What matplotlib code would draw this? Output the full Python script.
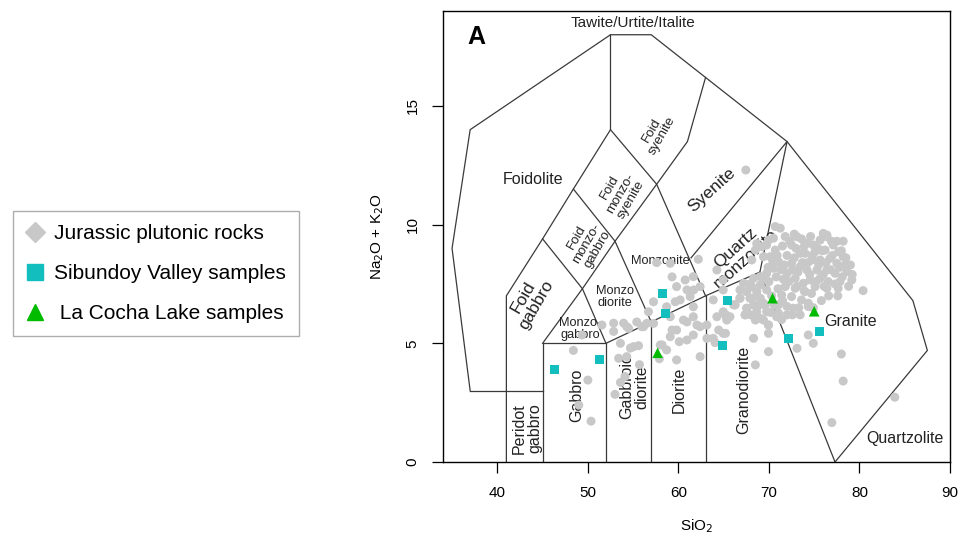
import matplotlib
matplotlib.use("Agg")
import matplotlib.pyplot as plt
from matplotlib.lines import Line2D

plt.rcParams['font.family'] = ['Liberation Sans', 'DejaVu Sans']

# ---- data (SiO2, Na2O+K2O) ----
jur_sio2 = [48.4, 50.0, 50.35, 49.0, 49.35, 51.55,
            52.85, 52.85, 53.0, 53.6, 53.4, 53.6, 54.1, 54.3, 54.7, 55.05, 55.6, 55.7, 53.95,
            54.5, 54.3, 55.4, 55.95, 56.15, 56.5, 56.7, 57.25, 57.25,
            57.6, 57.9, 58.0, 58.2, 58.7, 58.7, 59.1, 59.1, 59.1, 59.3, 59.3, 59.65, 59.8, 59.8,
            59.8, 60.1, 60.2, 60.55, 60.75, 60.95, 60.95, 60.95, 61.3, 61.65, 61.65, 61.65,
            61.65, 61.7, 62.05, 62.2, 62.4, 62.4, 62.4, 63.15, 63.15, 63.85, 63.85, 64.05,
            64.25, 64.25, 64.45, 64.95, 64.95, 64.95, 64.95, 65.35, 65.2, 65.2, 65.7, 66.1,
            66.25, 66.8, 66.8, 67.2, 67.4, 67.55, 67.55, 67.55, 67.45,
            71.25, 70.5, 69.75, 70.7, 70.15, 71.05, 70.5, 69.75, 69.05, 68.3, 69.05, 68.1,
            67.55, 68.65, 69.75, 67.9, 69.05, 68.3, 69.4, 67.55, 68.65, 69.75, 67.35, 68.5,
            69.4, 69.95, 71.8, 72.5, 73.45, 72.5, 73.45, 72.0, 72.9, 74.2, 74.9, 75.65, 76.4,
            76.2, 77.1, 77.7, 78.2, 78.4, 78.6, 77.5, 76.75, 75.65, 74.75, 75.3, 74.2, 76.4,
            77.3, 75.65, 74.55, 73.8, 76.55, 77.85, 79.15, 77.65, 76.4, 75.1, 74.0, 72.9, 71.8,
            71.4, 72.5, 73.6, 74.35, 80.4, 72.0, 71.05, 72.7, 70.85, 73.45, 65.35, 66.25, 66.8,
            68.5, 68.1, 70.7, 73.1, 76.0, 75.1, 74.0, 68.65, 69.2, 69.4, 69.95, 76.4,
            65.2, 68.3, 69.95, 69.95, 69.95, 68.5, 73.1, 74.35, 74.9, 78.0, 78.2, 72.0, 74.35,
            71.05, 69.05, 76.95, 83.9,
            70.0, 70.3, 70.8, 71.3, 71.6, 71.0, 71.5, 72.2, 72.0, 72.8, 73.2, 73.0, 73.7, 73.9,
            74.3, 74.5, 74.8, 75.2, 75.5, 75.9, 76.0, 76.3, 76.8, 77.0, 77.3, 77.8, 78.0, 78.1,
            76.9, 75.4, 74.6, 73.6, 72.8, 72.3, 71.5, 70.4, 69.9, 70.9, 71.7, 72.6, 73.1, 73.9,
            74.7, 76.1, 76.6, 77.6, 73.3, 72.6, 71.4, 70.6, 69.4, 68.7, 68.2, 67.9, 68.9, 68.0,
            69.6, 70.2, 75.8, 74.9, 78.5, 79.0, 79.2, 78.8, 77.5, 78.2]
jur_alk = [4.7, 3.45, 1.72, 2.4, 5.35, 5.77,
           5.85, 5.5, 2.85, 5.0, 4.37, 3.35, 3.6, 4.44, 4.8, 4.86, 4.9, 4.1, 5.85,
           5.63, 5.7, 5.9, 5.7, 5.7, 5.84, 6.33, 5.84, 6.75,
           8.4, 4.35, 4.93, 4.93, 4.72, 6.54, 6.12, 5.28, 8.37, 7.8, 5.56, 6.75, 4.3, 5.56,
           7.39, 5.07, 6.83, 5.98, 7.67, 7.25, 5.9, 5.14, 6.97, 6.54, 6.12, 5.35,
           7.81, 7.25, 5.77, 8.54, 4.44, 5.7, 7.39, 5.77, 5.21, 6.83, 5.21, 5.03,
           6.12, 8.09, 5.56, 6.33, 5.42, 7.25, 7.67, 5.98, 6.2, 5.42, 6.12, 6.62,
           6.62, 7.25, 6.9, 7.53, 6.2, 6.27, 7.18, 6.48, 12.3,
           9.85, 9.43, 9.14, 8.93, 8.65, 8.44, 8.16, 7.95, 7.81, 7.74, 7.46, 7.39,
           7.18, 7.18, 7.25, 6.9, 6.9, 6.62, 6.69, 6.48, 6.33, 6.33, 6.2, 5.98,
           5.98, 5.77, 9.5, 9.14, 8.79, 8.37, 8.23, 7.95, 7.74, 9.21, 9.14, 9.35, 9.49,
           8.93, 9.14, 8.86, 8.65, 8.3, 8.02, 8.37, 8.58, 8.51, 8.51, 8.09, 8.09, 8.09,
           7.95, 7.74, 7.67, 7.53, 7.6, 7.6, 7.67, 7.32, 7.32, 7.39, 7.18, 7.32, 7.39,
           7.04, 6.97, 6.83, 6.69, 7.22, 6.55, 6.62, 6.48, 6.12, 6.2, 6.05, 6.62, 6.9,
           8.93, 8.51, 9.92, 9.49, 9.63, 8.86, 8.79, 9.2, 9.07, 8.65, 9.35, 9.56,
           6.2, 5.21, 5.42, 5.77, 4.65, 4.09, 4.79, 5.35, 5.0, 4.55, 3.41, 6.2, 6.55,
           6.27, 6.05, 1.66, 2.73,
           7.6, 7.0, 7.8, 8.1, 7.7, 7.3, 6.8, 7.6, 8.7, 8.6, 8.0, 9.0, 8.4, 9.1,
           8.4, 7.9, 8.7, 7.6, 8.3, 8.9, 7.9, 8.4, 8.1, 8.7, 7.5, 8.2, 8.9, 7.8,
           9.3, 9.0, 9.5, 9.4, 9.6, 9.3, 9.1, 8.5, 8.2, 8.7, 8.3, 8.1, 7.4, 7.2,
           7.1, 7.4, 7.0, 7.0, 6.5, 6.2, 6.0, 6.6, 7.7, 7.0, 6.9, 7.5, 6.6, 6.2,
           6.6, 6.3, 6.8, 6.5, 8.6, 8.3, 7.9, 7.4, 9.3, 9.3]

sib_sio2 = [46.3, 51.3, 58.2, 58.6, 65.4, 64.9, 72.2, 75.6]
sib_alk = [3.9, 4.3, 7.1, 6.25, 6.8, 4.9, 5.2, 5.5]

lac_sio2 = [57.7, 70.4, 75.0]
lac_alk = [4.6, 6.9, 6.35]

# field boundaries (Middlemost plutonic TAS)
fields = [
    [(41, 0), (41, 7), (45, 9.4), (48.4, 11.5), (52.5, 14), (52.5, 18)],
    [(37, 3), (35, 9), (37, 14), (52.5, 18), (57, 18), (63, 16.2), (72, 13.5),
     (85.9, 6.8), (87.5, 4.7), (77.3, 0)],
    [(37, 3), (45, 3)],
    [(45, 0), (45, 5), (52, 5), (52, 0)],
    [(57, 0), (57, 5.9)],
    [(63, 0), (63, 7)],
    [(45, 5), (49.4, 7.3), (53, 9.3), (57.6, 11.7), (61, 13.5), (63, 16.2)],
    [(45, 9.4), (49.4, 7.3), (52, 5), (57, 5.9), (63, 7), (69, 8), (77.3, 0)],
    [(48.4, 11.5), (53, 9.3), (57, 5.9)],
    [(52.5, 14), (57.6, 11.7), (63, 7)],
    [(61.4, 8.6), (72, 13.5), (69, 8)],
]

labels = [
    ("Tawite/Urtite/Italite", 55.0, 18.5, 0, 11),
    ("Foidolite", 44.0, 11.9, 0, 11.5),
    ("Foid\nsyenite", 57.6, 13.85, 60, 9.5),
    ("Foid\nmonzo-\nsyenite", 53.6, 11.3, 60, 9.5),
    ("Foid\nmonzo-\ngabbro", 49.9, 9.2, 60, 9.5),
    ("Foid\ngabbro", 43.6, 6.8, 60, 12.5),
    ("Syenite", 63.7, 11.45, 42, 12.5),
    ("Quartz\nmonzonite", 66.9, 8.8, 42, 12.5),
    ("Monzonite", 58.0, 8.45, 0, 9.2),
    ("Monzo\ndiorite", 52.95, 6.94, 0, 9.2),
    ("Monzo-\ngabbro", 49.15, 5.6, 0, 9.2),
    ("Gabbro", 48.8, 2.82, 90, 11.5),
    ("Gabbroic\ndiorite", 55.15, 3.17, 90, 11.5),
    ("Diorite", 60.1, 3.03, 90, 11.5),
    ("Granodiorite", 67.2, 3.03, 90, 11.5),
    ("Peridot\ngabbro", 43.3, 1.42, 90, 11.5),
    ("Granite", 79.0, 5.91, 0, 11.5),
    ("Quartzolite", 85.0, 1.0, 0, 11.5),
]

fig = plt.figure(figsize=(9.66, 5.38), dpi=100)
ax = fig.add_axes([443/966, 1 - 462/538, 507/966, 451/538])

for f in fields:
    xs = [p[0] for p in f]
    ys = [p[1] for p in f]
    ax.plot(xs, ys, color='#3a3a3a', lw=0.9, zorder=1)

for txt, x, y, rot, fs in labels:
    ax.text(x, y, txt, rotation=rot, fontsize=fs, ha='center', va='center',
            color='#222222', linespacing=1.0, rotation_mode='anchor', zorder=2)

ax.text(37.7, 17.9, "A", fontsize=18, fontweight='bold', ha='center', va='center')

ax.scatter(jur_sio2, jur_alk, s=42, c='#c8c8c8', edgecolors='none', zorder=3)
ax.scatter(sib_sio2, sib_alk, s=42, marker='s', c='#12bebe', edgecolors='none', zorder=4)
ax.scatter(lac_sio2, lac_alk, s=58, marker='^', c='#00bb00', edgecolors='none', zorder=4)

ax.set_xlim(34, 90)
ax.set_ylim(0, 19)
ax.set_xticks([40, 50, 60, 70, 80, 90])
ax.set_yticks([0, 5, 10, 15])
ax.tick_params(length=8, width=0.9, labelsize=11, pad=9)
for lab in ax.get_yticklabels():
    lab.set_rotation(90)
    lab.set_va('center')
for s in ax.spines.values():
    s.set_linewidth(1.0)
ax.set_xlabel("SiO$_2$", fontsize=11, labelpad=13)
ax.set_ylabel("Na$_2$O + K$_2$O", fontsize=11, labelpad=14)

handles = [
    Line2D([], [], marker='D', ls='none', color='#c8c8c8', markersize=10),
    Line2D([], [], marker='s', ls='none', color='#12bebe', markersize=11),
    Line2D([], [], marker='^', ls='none', color='#00bb00', markersize=12),
]
leg = fig.legend(handles, ["Jurassic plutonic rocks", "Sibundoy Valley samples",
                           " La Cocha Lake samples"],
                 loc='upper left', bbox_to_anchor=(13/966, 1 - 211/538),
                 fontsize=15, frameon=True, fancybox=False, edgecolor='#999999',
                 handletextpad=0.45, handlelength=0.9, labelspacing=1.02,
                 borderpad=0.62, borderaxespad=0)
leg.get_frame().set_linewidth(1.0)

fig.savefig("out.png", dpi=100)
